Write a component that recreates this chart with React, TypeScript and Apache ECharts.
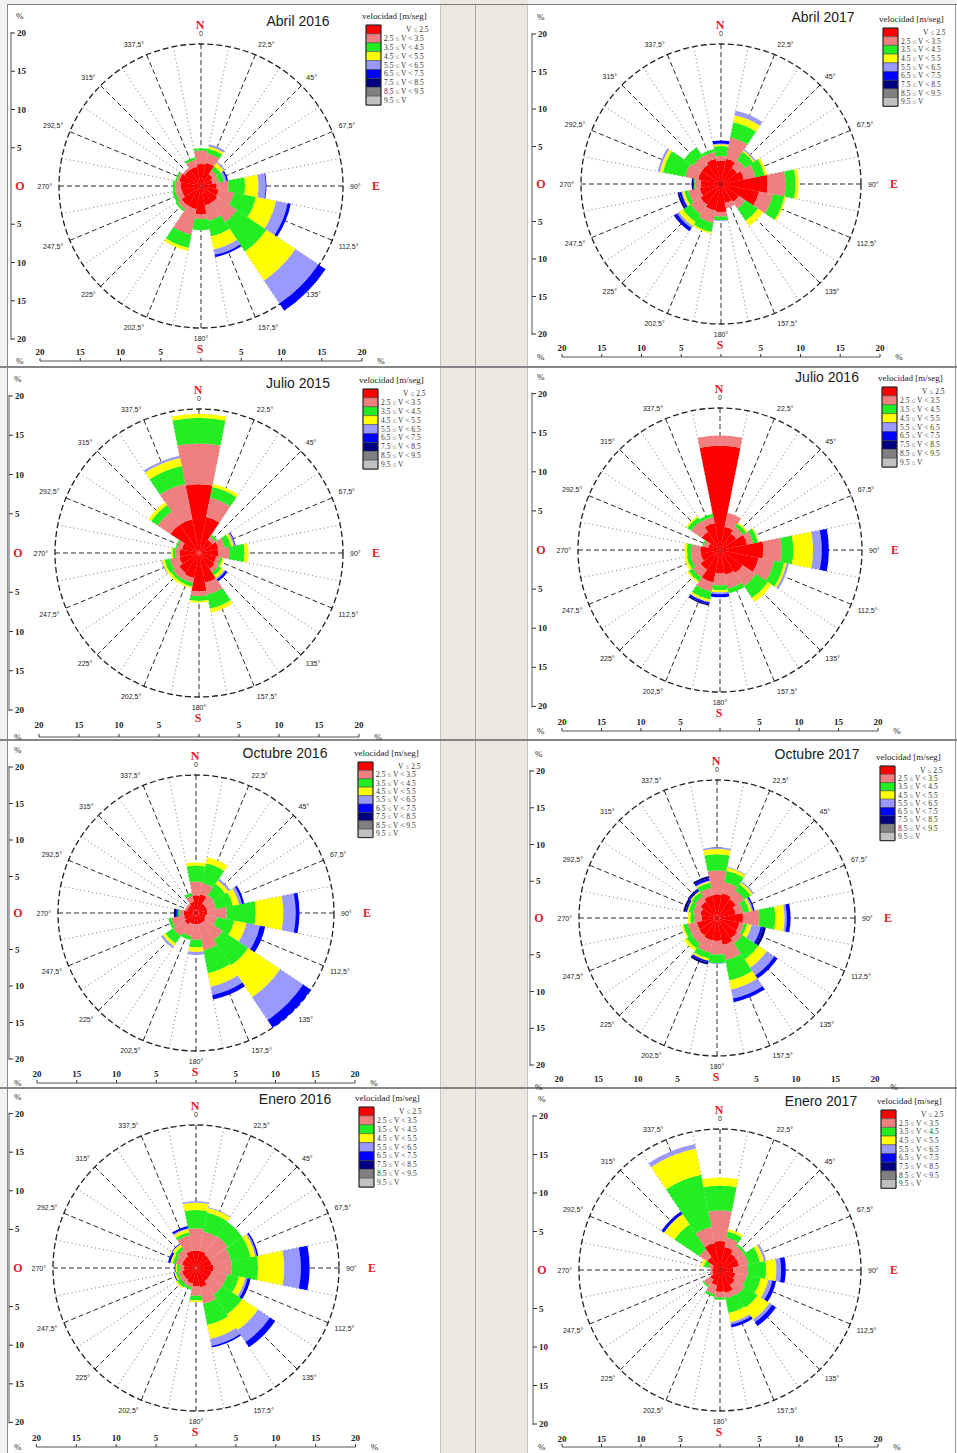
import React, { useEffect, useRef } from "react";
import * as echarts from "echarts";

// ---------- data ----------
const DIRECTIONS = ["N", "NNE", "NE", "ENE", "E", "ESE", "SE", "SSE", "S", "SSW", "SW", "WSW", "W", "WNW", "NW", "NNW"];
const SPEED_CLASSES = [
  "V ≤ 2.5",
  "2.5 ≤ V < 3.5",
  "3.5 ≤ V < 4.5",
  "4.5 ≤ V < 5.5",
  "5.5 ≤ V < 6.5",
  "6.5 ≤ V < 7.5",
  "7.5 ≤ V < 8.5",
  "8.5 ≤ V < 9.5",
  "9.5 ≤ V",
];
const CLASS_COLORS = ["#ff0000", "#f08080", "#22ee22", "#ffff00", "#9999ff", "#0000ff", "#000080", "#808080", "#c0c0c0"];
const AXIS_TICKS = [20, 15, 10, 5, 0, -5, -10, -15, -20];
const RADIUS_MAX = 18;
const NONE = [0, 0, 0, 0, 0, 0, 0, 0, 0, 0, 0, 0, 0, 0, 0, 0];

// frequency (%) per speed class, 16 directions N..NNW
const abril2016 = [
  [2.8, 3.0, 1.8, 1.5, 2.0, 2.3, 2.5, 2.5, 3.6, 3.0, 3.0, 2.5, 2.6, 2.8, 2.5, 2.5],
  [1.7, 1.2, 0.6, 0.8, 1.5, 2.0, 3.0, 2.0, 0.6, 3.3, 0.6, 0.8, 0.7, 0.3, 0.3, 0.9],
  [0.3, 0.6, 0.6, 0.7, 2.1, 2.8, 4.5, 2.0, 1.4, 1.7, 0.3, 0.4, 0.3, 0.2, 0, 0.3],
  [0, 0.3, 0.5, 0, 1.7, 2.6, 4.4, 1.7, 0, 0.4, 0, 0, 0, 0, 0, 0],
  [0, 0.3, 0.2, 0.3, 0.9, 1.5, 3.5, 0.7, 0, 0, 0, 0, 0, 0, 0, 0],
  [0, 0, 0, 0.2, 0.1, 0.4, 1.1, 0.3, 0, 0, 0, 0, 0, 0, 0, 0],
  NONE, NONE, NONE,
];
const abril2017 = [
  [3.0, 3.3, 2.5, 3.0, 6.0, 5.0, 2.8, 2.5, 3.6, 3.5, 3.2, 2.8, 2.6, 3.0, 3.0, 3.3],
  [0.6, 2.8, 1.2, 1.5, 2.3, 1.8, 1.0, 0.7, 0.6, 1.6, 1.5, 1.5, 0.7, 1.7, 1.3, 0.9],
  [1.3, 2.0, 1.3, 1.2, 1.3, 1.5, 1.9, 0, 0.5, 1.2, 1.2, 0.5, 0.2, 2.9, 1.4, 0.4],
  [0.2, 0.9, 0.2, 0.3, 0.4, 0.2, 0.8, 0, 0, 0.2, 0.6, 0.3, 0, 0.4, 0, 0],
  [0.1, 0.6, 0.2, 0, 0, 0, 0, 0, 0.1, 0, 0.3, 0.1, 0, 0.3, 0, 0],
  [0.4, 0, 0, 0, 0, 0, 0, 0, 0, 0, 0.5, 0.3, 0.1, 0, 0, 0],
  [0, 0, 0, 0, 0, 0, 0, 0, 0, 0, 0, 0.2, 0.2, 0, 0, 0],
  NONE, NONE,
];
const julio2015 = [
  [8.6, 4.6, 2.0, 2.5, 2.4, 2.2, 2.4, 3.8, 4.8, 3.2, 3.0, 2.5, 2.4, 2.2, 4.3, 4.3],
  [5.1, 2.4, 0.5, 0.8, 1.4, 0.5, 0.5, 1.5, 0.6, 0.6, 0.9, 1.2, 0.6, 0.6, 1.9, 4.5],
  [3.2, 1.4, 0.3, 0.8, 1.9, 0.3, 0.5, 1.8, 0.6, 0.5, 0.4, 0.7, 0.3, 0.2, 1.0, 2.3],
  [0.5, 0.4, 0, 0.3, 0.5, 0.2, 0.4, 0.5, 0.2, 0.2, 0.3, 0.3, 0.2, 0, 0.4, 1.0],
  [0, 0, 0, 0.2, 0, 0, 0.2, 0, 0, 0, 0, 0.1, 0, 0, 0, 0.3],
  [0, 0, 0, 0.1, 0, 0, 0.3, 0, 0, 0, 0, 0, 0, 0, 0, 0],
  NONE, NONE, NONE,
];
const julio2016 = [
  [13.2, 3.0, 2.5, 3.5, 5.5, 5.0, 3.5, 3.2, 3.0, 4.2, 3.0, 2.5, 2.5, 1.5, 2.8, 3.5],
  [1.3, 1.8, 1.0, 0.8, 2.3, 2.0, 2.0, 1.8, 1.5, 1.2, 1.2, 1.3, 1.2, 0.6, 1.6, 0.8],
  [0, 0, 0.5, 0.6, 1.5, 1.3, 1.8, 0.6, 0.6, 1.0, 0.6, 0.5, 0.5, 0.2, 0.6, 0.4],
  [0, 0, 0.2, 0.1, 2.5, 0.3, 0.6, 0, 0.3, 0.3, 0.2, 0.3, 0.3, 0, 0.2, 0],
  [0, 0, 0, 0, 1.1, 0.3, 0, 0, 0.2, 0.1, 0, 0, 0, 0, 0, 0],
  [0, 0, 0, 0, 0.9, 0, 0, 0, 0.4, 0.2, 0, 0, 0, 0, 0, 0],
  [0, 0, 0, 0, 0, 0, 0, 0, 0, 0.2, 0, 0, 0, 0, 0, 0],
  NONE, NONE,
];
const octubre2016 = [
  [2.3, 2.5, 1.5, 1.5, 1.5, 1.3, 1.5, 1.5, 1.5, 1.5, 1.8, 1.6, 1.6, 1.2, 1.2, 1.5],
  [1.8, 1.5, 1.3, 1.2, 2.5, 1.5, 2.7, 3.5, 2.0, 1.6, 1.8, 1.7, 0.5, 0.3, 0.3, 0.8],
  [2.1, 2.6, 1.8, 2.2, 3.8, 2.3, 4.0, 3.0, 1.0, 0.5, 1.2, 0.4, 0.3, 0, 0, 0.4],
  [0.4, 0.8, 0.5, 0.8, 3.6, 1.6, 5.0, 1.8, 0.6, 0, 0.4, 0, 0, 0, 0, 0],
  [0, 0, 0.3, 0.4, 1.6, 1.8, 3.6, 1.1, 0.4, 0, 0.3, 0, 0, 0, 0, 0],
  [0, 0, 0, 0.3, 0.5, 0.7, 1.2, 0.6, 0, 0, 0, 0, 0.2, 0, 0, 0],
  [0, 0, 0, 0, 0, 0, 0, 0, 0, 0, 0, 0, 0.3, 0, 0, 0],
  NONE, NONE,
];
const octubre2017 = [
  [3.1, 3.3, 3.0, 2.5, 3.4, 3.0, 3.2, 3.6, 3.0, 3.0, 2.8, 2.7, 2.0, 2.2, 2.6, 3.0],
  [3.1, 1.5, 1.3, 1.0, 2.1, 0.6, 0.8, 2.0, 1.8, 1.6, 1.2, 1.2, 1.0, 1.0, 0.8, 1.0],
  [2.1, 1.5, 1.0, 0.8, 2.1, 0.4, 2.5, 2.7, 1.1, 0.8, 0.8, 0.6, 0.5, 0.6, 0.6, 0.7],
  [0.7, 0.4, 0.3, 0.3, 1.2, 0.6, 1.3, 1.2, 0, 0.3, 0.4, 0.2, 0.3, 0.2, 0.2, 0.2],
  [0.2, 0.1, 0.2, 0.2, 0.3, 1.2, 1.2, 1.2, 0.1, 0, 0, 0, 0, 0, 0, 0.1],
  [0, 0, 0, 0.2, 0.5, 0.3, 0.5, 0.5, 0, 0.2, 0, 0, 0, 0.2, 0.2, 0.3],
  [0, 0, 0, 0, 0, 0.4, 0, 0, 0, 0.3, 0, 0, 0, 0.3, 0.2, 0.3],
  NONE, NONE,
];
const enero2016 = [
  [2.2, 2.2, 2.0, 2.0, 2.2, 2.0, 2.0, 2.5, 2.3, 2.0, 1.8, 1.8, 1.5, 1.8, 1.8, 2.2],
  [2.8, 2.5, 2.8, 2.5, 2.3, 2.0, 2.0, 2.1, 1.2, 0.5, 0.6, 0.5, 0.5, 0.8, 1.0, 2.0],
  [2.3, 2.4, 2.2, 2.5, 3.3, 1.5, 3.0, 2.7, 0.6, 0.3, 0.5, 0.3, 0.4, 0.4, 0.4, 0.4],
  [0.9, 0.6, 0, 0.6, 3.3, 0.8, 2.4, 1.8, 0.2, 0, 0.2, 0.2, 0.2, 0.3, 0.4, 0.4],
  [0.2, 0.1, 0, 0.2, 2.1, 0.3, 1.8, 0.9, 0, 0, 0, 0, 0, 0, 0, 0.1],
  [0, 0, 0, 0.2, 1.1, 0.4, 0.8, 0.2, 0, 0, 0, 0.1, 0.1, 0.3, 0.1, 0.3],
  NONE, NONE, NONE,
];
const enero2017 = [
  [3.7, 3.0, 2.5, 2.5, 1.7, 2.0, 2.3, 3.0, 2.8, 2.0, 1.5, 1.0, 1.0, 1.0, 2.0, 3.5],
  [3.9, 1.2, 1.2, 1.2, 1.9, 1.5, 1.5, 0.7, 0.7, 1.2, 1.0, 0.3, 0.2, 0.5, 1.2, 2.1],
  [3.2, 0.8, 0.3, 1.5, 2.3, 1.8, 2.0, 1.9, 0.3, 0.3, 0.2, 0, 0, 0.6, 3.8, 6.8],
  [1.0, 0.3, 0, 0.5, 1.3, 1.0, 1.8, 1.2, 0, 0, 0, 0, 0, 0.4, 1.6, 3.4],
  [0, 0, 0, 0.3, 0.6, 0.5, 0.4, 0.3, 0, 0, 0, 0, 0, 0, 0, 0.6],
  [0, 0, 0, 0, 0.6, 0.5, 0.6, 0.4, 0, 0, 0, 0, 0, 0, 0.4, 0],
  NONE, NONE, NONE,
];

// ---------- layout ----------
const PANELS = [
  { title: "Abril 2016", data: abril2016, cx: 201, cy: 186, r: 142, vs: 7.65, hs: 8.05, ax: 11, bLab: 352, bLine: 361, tx: 298, ty: 21, lx: 366, ly: 25, lh: 8.9 },
  { title: "Abril 2017", data: abril2017, cx: 721, cy: 184, r: 140, vs: 7.5, hs: 7.95, ax: 532, bLab: 348, bLine: 357, tx: 823, ty: 17, lx: 883, ly: 28, lh: 8.7 },
  { title: "Julio 2015", data: julio2015, cx: 199, cy: 553, r: 144, vs: 7.85, hs: 8.0, ax: 9, bLab: 725, bLine: 737, tx: 298, ty: 383, lx: 363, ly: 389, lh: 8.9 },
  { title: "Julio 2016", data: julio2016, cx: 720, cy: 550, r: 142, vs: 7.82, hs: 7.9, ax: 532, bLab: 722, bLine: 731, tx: 827, ty: 377, lx: 882, ly: 387, lh: 8.9 },
  { title: "Octubre 2016", data: octubre2016, cx: 196, cy: 913, r: 138, vs: 7.3, hs: 7.95, ax: 9, bLab: 1074, bLine: 1083, tx: 285, ty: 753, lx: 358, ly: 762, lh: 8.4 },
  { title: "Octubre 2017", data: octubre2017, cx: 717, cy: 918, r: 138, vs: 7.35, hs: 7.9, ax: 530, bLab: 1079, bLine: 0, tx: 817, ty: 754, lx: 880, ly: 766, lh: 8.3 },
  { title: "Enero 2016", data: enero2016, cx: 196, cy: 1268, r: 143, vs: 7.72, hs: 7.98, ax: 9, bLab: 1438, bLine: 1447, tx: 295, ty: 1099, lx: 359, ly: 1107, lh: 8.9 },
  { title: "Enero 2017", data: enero2017, cx: 720, cy: 1270, r: 141, vs: 7.7, hs: 7.9, ax: 533, bLab: 1439, bLine: 1447, tx: 821, ty: 1101, lx: 881, ly: 1110, lh: 8.7 },
];

const SANS = "'Liberation Sans', Arial, sans-serif";
const SERIF = "'Liberation Serif', 'Times New Roman', serif";
const RED = "#e3202a";

function panelGraphics(p: any) {
  const g: any[] = [];
  const text = (x: number, y: number, t: string, o: any = {}) => {
    const al = o.align || "center";
    g.push({
      type: "text",
      x,
      y,
      silent: true,
      style: Object.assign(
        {
          text: t,
          fill: "#222",
          fontSize: 8,
          fontFamily: SERIF,
          align: al,
          verticalAlign: "middle",
          textAlign: al,
          textVerticalAlign: "middle",
        },
        o
      ),
    });
  };
  const line = (x1: number, y1: number, x2: number, y2: number, o: any = {}) =>
    g.push({ type: "line", silent: true, shape: { x1, y1, x2, y2 }, style: Object.assign({ stroke: "#333", lineWidth: 1 }, o) });

  // title
  text(p.tx, p.ty, p.title, { fontFamily: SANS, fontSize: 14, fill: "#1a1a1a" });

  // legend
  text(p.lx - 4, p.ly - 9, "velocidad [m/seg]", { fontSize: 9, align: "left", textAlign: "left" });
  SPEED_CLASSES.forEach((c, k) => {
    const y = p.ly + k * p.lh;
    g.push({
      type: "rect",
      silent: true,
      shape: { x: p.lx, y, width: 15, height: p.lh },
      style: { fill: CLASS_COLORS[k], stroke: "#444", lineWidth: 0.5 },
    });
    text(k === 0 ? p.lx + 40 : p.lx + 18, y + p.lh / 2, c, { fontSize: 7.5, align: "left", textAlign: "left", fill: "#333" });
  });
  g.push({
    type: "rect",
    silent: true,
    shape: { x: p.lx, y: p.ly, width: 15, height: 9 * p.lh },
    style: { fill: "none", stroke: "#222", lineWidth: 1 },
  });

  // compass letters
  const big = { fill: RED, fontSize: 12, fontWeight: "bold" };
  text(p.cx - 1, p.cy - p.r - 19, "N", big);
  text(p.cx - 1, p.cy + p.r + 21, "S", big);
  text(p.cx + p.r + 33, p.cy, "E", big);
  text(p.ax + 9, p.cy, "O", big);

  // left axis
  const yTop = p.cy - 20 * p.vs;
  const yBot = p.cy + 20 * p.vs;
  line(p.ax, yTop - 1, p.ax, yBot + 1, { stroke: "#555" });
  AXIS_TICKS.forEach((t) => {
    if (t === 0) return;
    const y = p.cy - t * p.vs;
    line(p.ax, y, p.ax + 4, y);
    text(p.ax + 6, y, String(Math.abs(t)), { fontWeight: "bold", fontSize: 9, align: "left", textAlign: "left" });
  });
  text(p.ax + 5, yTop - 17, "%", { fontSize: 9, align: "left", textAlign: "left" });

  // bottom axis
  const xL = p.cx - 20 * p.hs;
  const xR = p.cx + 20 * p.hs;
  if (p.bLine) line(xL, p.bLine, xR, p.bLine, { stroke: "#555" });
  AXIS_TICKS.forEach((t) => {
    const x = p.cx + t * p.hs;
    if (p.bLine) line(x, p.bLine, x, p.bLine - 3);
    if (t !== 0) text(x, p.bLab, String(Math.abs(t)), { fontWeight: "bold", fontSize: 9 });
  });
  const pctY = p.bLine ? p.bLine : p.bLab + 8;
  text(p.ax + 5, pctY, "%", { fontSize: 9, align: "left", textAlign: "left" });
  text(xR + 19, pctY, "%", { fontSize: 9 });
  return g;
}

function angleLabel(v: number) {
  if (v === 0) return "0";
  return String(v).replace(".", ",") + "°";
}

function buildOption() {
  const polar: any[] = [];
  const angleAxis: any[] = [];
  const radiusAxis: any[] = [];
  const series: any[] = [];
  let graphics: any[] = [];

  PANELS.forEach((p, i) => {
    const gi = 2 * i;
    const bi = 2 * i + 1;
    polar.push({ center: [p.cx, p.cy], radius: p.r });
    polar.push({ center: [p.cx, p.cy], radius: p.r });

    angleAxis.push({
      polarIndex: gi,
      type: "value",
      min: 0,
      max: 360,
      interval: 22.5,
      startAngle: 90,
      clockwise: true,
      z: 0,
      axisLine: { show: true, lineStyle: { color: "#222", width: 1.3, type: [6, 3] } },
      axisTick: { show: false },
      axisLabel: { show: true, margin: 7, fontSize: 7, color: "#222", fontFamily: SANS, formatter: angleLabel },
      splitLine: { show: true, lineStyle: { color: "#2a2a2a", width: 1, type: [5, 3] } },
    });
    angleAxis.push({
      polarIndex: bi,
      type: "category",
      data: DIRECTIONS,
      startAngle: 101.25,
      clockwise: true,
      boundaryGap: true,
      z: 0,
      axisLine: { show: false },
      axisTick: { show: false },
      axisLabel: { show: false },
      splitLine: { show: true, lineStyle: { color: "#777", width: 1, type: [1, 3] } },
    });
    [gi, bi].forEach((pi) =>
      radiusAxis.push({
        polarIndex: pi,
        type: "value",
        min: 0,
        max: RADIUS_MAX,
        axisLine: { show: false },
        axisTick: { show: false },
        axisLabel: { show: false },
        splitLine: { show: false },
      })
    );

    p.data.forEach((vals: number[], k: number) => {
      series.push({
        type: "bar",
        name: SPEED_CLASSES[k],
        coordinateSystem: "polar",
        polarIndex: bi,
        stack: "rose" + i,
        data: vals,
        barCategoryGap: "0%",
        clip: false,
        silent: true,
        z: 2,
        itemStyle: { color: CLASS_COLORS[k] },
      });
    });

    graphics = graphics.concat(panelGraphics(p));
  });

  return {
    animation: false,
    polar,
    angleAxis,
    radiusAxis,
    series,
    graphic: { elements: graphics },
  };
}

export default function App() {
  const ref = useRef<HTMLDivElement>(null);
  useEffect(() => {
    document.body.style.margin = "0";
    const chart = echarts.init(ref.current as HTMLDivElement, undefined, { renderer: "svg" });
    chart.setOption(buildOption() as any);
    return () => chart.dispose();
  }, []);

  const abs = (l: number, t: number, w: number, h: number, bg: string) => (
    <div style={{ position: "absolute", left: l, top: t, width: w, height: h, background: bg }} />
  );

  return (
    <div style={{ position: "relative", width: 957, height: 1453, background: "#f2f2f2", overflow: "hidden" }}>
      {abs(440, 0, 88, 1453, "#ebe9df")}
      {abs(8, 5, 432, 1448, "#ffffff")}
      {abs(528, 5, 427, 1448, "#ffffff")}
      {abs(7, 4, 950, 1, "#7a7a7a")}
      {abs(7, 4, 1, 1449, "#8a8a8a")}
      {abs(440, 5, 1, 1448, "#c4c4c4")}
      {abs(475, 5, 1, 1448, "#a8a8a8")}
      {abs(527, 5, 1, 1448, "#c4c4c4")}
      {abs(955, 5, 1, 1448, "#a0a0a0")}
      {abs(0, 366, 957, 2, "#858585")}
      {abs(0, 739, 957, 2, "#858585")}
      {abs(0, 1087, 957, 2, "#858585")}
      <div ref={ref} style={{ position: "absolute", left: 0, top: 0, width: 957, height: 1453 }} />
    </div>
  );
}
